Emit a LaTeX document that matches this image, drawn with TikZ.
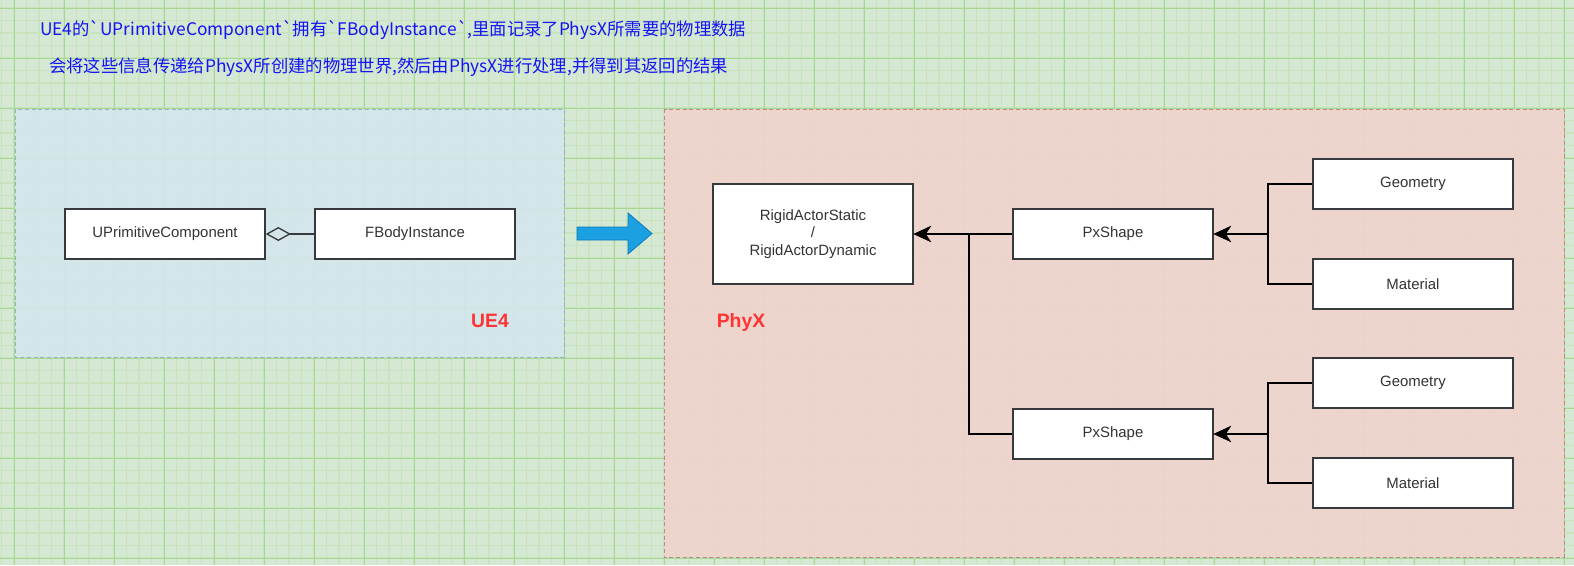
\documentclass[tikz,border=0pt]{standalone}
\usepackage{fontspec}
\setmainfont{Liberation Sans}
\newfontfamily\cjk{Noto Sans CJK SC}
\usetikzlibrary{arrows.meta}
\definecolor{bggreen}{HTML}{D5E8D4}
\definecolor{gridminor}{HTML}{C8E3BE}
\definecolor{gridmajor}{HTML}{A6D892}
\definecolor{uefill}{HTML}{D5E6EE}
\definecolor{ueline}{HTML}{9AB0C4}
\definecolor{pxfill}{HTML}{F0D3CC}
\definecolor{pxline}{HTML}{BF8A84}
\definecolor{boxline}{HTML}{36393D}
\definecolor{txt}{HTML}{333333}
\definecolor{titleblue}{HTML}{1414F5}
\definecolor{labred}{HTML}{FF3333}
\definecolor{bigarrow}{HTML}{1BA1E2}
\definecolor{bigarrowline}{HTML}{0E78B8}
\tikzset{
  classbox/.style={draw=boxline, line width=1pt, fill=white, minimum width=150pt, minimum height=37.5pt, inner sep=0pt, font=\fontsize{11.2pt}{13pt}\selectfont, text=txt, align=center},
  conn/.style={draw=black, line width=1pt, -{Stealth[length=13pt,width=12pt,inset=4pt]}},
  plainconn/.style={draw=black, line width=1pt},
  grouplabel/.style={font=\bfseries\fontsize{14.5pt}{16pt}\selectfont, text=labred},
  titletext/.style={font=\cjk\fontsize{13pt}{15pt}\selectfont, text=titleblue, anchor=west, inner sep=0pt}
}
\begin{document}
\begin{tikzpicture}[x=0.75pt,y=-0.75pt]
\useasboundingbox (0,0) rectangle (1574,565);
\fill[bggreen] (0,0) rectangle (1574,565);
\foreach \x in {1.5,14,...,1574} \draw[gridminor, line width=0.9pt] (\x,0) -- (\x,565);
\foreach \y in {8,20.5,...,565} \draw[gridminor, line width=0.9pt] (0,\y) -- (1574,\y);
\foreach \x in {14,64,...,1574} \draw[gridmajor, line width=0.75pt] (\x,0) -- (\x,565);
\foreach \y in {8,58,...,565} \draw[gridmajor, line width=0.75pt] (0,\y) -- (1574,\y);

% containers
\fill[uefill, fill opacity=0.9] (15,109) rectangle (564,357);
\draw[ueline, dashed, line width=0.75pt, dash pattern=on 3pt off 2pt] (15,109) rectangle (564,357);
\fill[pxfill, fill opacity=0.92] (664,109) rectangle (1564,557);
\draw[pxline, dashed, line width=0.75pt, dash pattern=on 3pt off 2pt] (664,109) rectangle (1564,557);

% title
\node[titletext] (t1) at (40,30) {UE4的`UPrimitiveComponent`拥有`FBodyInstance`,里面记录了PhysX所需要的物理数据};
\node[titletext] (t2) at (49,67) {会将这些信息传递给PhysX所创建的物理世界,然后由PhysX进行处理,并得到其返回的结果};

% UE4 part
\node[classbox] (upc) at (165,234) {UPrimitiveComponent};
\node[classbox] (fbi) at (415,234) {FBodyInstance};
\draw[plainconn, draw=boxline, -{Diamond[open,length=19pt,width=10.5pt]}] (fbi.west) -- (upc.east);
\node[grouplabel] (uelab) at (490,321) {UE4};

% big arrow
\filldraw[fill=bigarrow, draw=bigarrowline, line width=0.6pt] (577,227) -- (628,227) -- (628,213) -- (652,233.5) -- (628,254) -- (628,240) -- (577,240) -- cycle;

% PhysX part
\node[grouplabel] (pxlab) at (741,322) {PhyX};
\node[classbox, minimum height=75pt] (rig) at (813,234) {RigidActorStatic\\/\\RigidActorDynamic};
\node[classbox] (px1) at (1113,234) {PxShape};
\node[classbox] (px2) at (1113,434) {PxShape};
\node[classbox] (geo1) at (1413,184) {Geometry};
\node[classbox] (mat1) at (1413,284) {Material};
\node[classbox] (geo2) at (1413,383) {Geometry};
\node[classbox] (mat2) at (1413,483) {Material};

\coordinate (j0) at (969,234);
\coordinate (j1) at (1268,234);
\coordinate (j2) at (1268,434);

\draw[conn] (px1.west) -- (rig.east);
\draw[conn] (px2.west) -| (j0) -- (rig.east);
\draw[conn] (geo1.west) -| (j1) -- (px1.east);
\draw[conn] (mat1.west) -| (j1) -- (px1.east);
\draw[conn] (geo2.west) -| (j2) -- (px2.east);
\draw[conn] (mat2.west) -| (j2) -- (px2.east);
\end{tikzpicture}
\end{document}
